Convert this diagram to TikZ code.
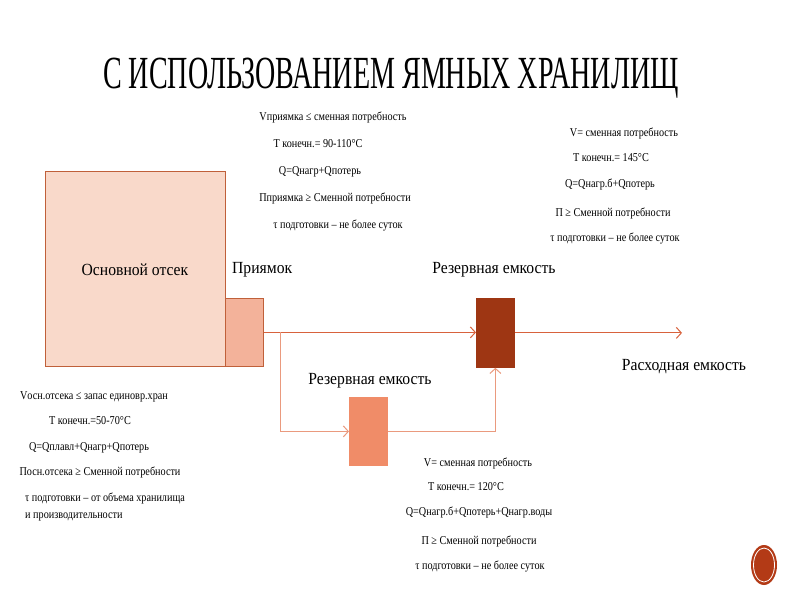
\documentclass[tikz,border=0pt]{standalone}
\usepackage{fontspec}
\setmainfont{Liberation Serif}
\newfontfamily\titlefont{Liberation Serif}[FakeStretch=0.61]
\newfontfamily\smallfont{Liberation Serif}[FakeStretch=0.85]
\newfontfamily\labelfont{Liberation Serif}[FakeStretch=0.92]
\usetikzlibrary{arrows.meta,shapes.geometric}
\definecolor{mainfill}{HTML}{F9D9CA}
\definecolor{boxborder}{HTML}{C0603A}
\definecolor{prfill}{HTML}{F3B29A}
\definecolor{resdark}{HTML}{9E3613}
\definecolor{reslight}{HTML}{F08C68}
\definecolor{mainline}{HTML}{D8623D}
\definecolor{branchline}{HTML}{EA9A7E}
\definecolor{iconred}{HTML}{B33A16}
\tikzset{
  box/.style={draw=boxborder, line width=0.8pt, anchor=north west, inner sep=0pt},
  lbl/.style={font=\labelfont\fontsize{17}{20}\selectfont, inner sep=0pt},
  info/.style={font=\smallfont\fontsize{12}{14}\selectfont, inner sep=0pt, anchor=base},
  mline/.style={draw=mainline, line width=1pt, -{Straight Barb[length=5pt,width=11pt]}},
  bline/.style={draw=branchline, line width=1pt, -{Straight Barb[length=5pt,width=11pt]}},
}
\begin{document}
\begin{tikzpicture}[x=1pt,y=-1pt]
\useasboundingbox (0,0) rectangle (800,600);
\fill[white] (0,0) rectangle (800,600);
% title
\node[font=\titlefont\fontsize{46}{50}\selectfont, anchor=base, inner sep=0pt] (title) at (391,88) {С ИСПОЛЬЗОВАНИЕМ ЯМНЫХ ХРАНИЛИЩ};
% boxes
\node[box, fill=mainfill, minimum width=180pt, minimum height=195pt] (main) at (45,171) {};
\node[box, fill=prfill, minimum width=38pt, minimum height=68pt] (pr) at (225,298) {};
\node[box, draw=resdark, fill=resdark, minimum width=38pt, minimum height=69pt] (res1) at (476,298) {};
\node[box, draw=reslight, fill=reslight, minimum width=38pt, minimum height=68pt] (res2) at (349,397) {};
% labels
\node[lbl] (lmain) at (135,270) {Основной отсек};
\node[lbl, anchor=west] (lpr) at (232,270) {Приямок};
\node[lbl] (lres1) at (494,270) {Резервная емкость};
\node[lbl] (lres2) at (370,381) {Резервная емкость};
\node[lbl] (lout) at (684,367) {Расходная емкость};
% connectors
\coordinate (br) at (280,332);
\coordinate (outx) at (682,333);
\draw[mline] (pr.east) -- (pr.east -| res1.west);
\draw[mline] (res1.east) -- (res1.east -| outx);
\draw[bline] (br) |- (res2.west);
\draw[bline] (res2.east) -| (res1.south);
% info top middle
\node[info] (a1) at (333,120) {Vприямка ≤ сменная потребность};
\node[info] (a2) at (318,147) {T конечн.= 90-110°C};
\node[info] (a3) at (320,174) {Q=Qнагр+Qпотерь};
\node[info] (a4) at (335,201) {Пприямка ≥ Сменной потребности};
\node[info] (a5) at (338,228) {τ подготовки – не более суток};
% info top right
\node[info] (b1) at (624,136) {V= сменная потребность};
\node[info] (b2) at (611,161) {T конечн.= 145°C};
\node[info] (b3) at (610,187) {Q=Qнагр.б+Qпотерь};
\node[info] (b4) at (613,216) {П ≥ Сменной потребности};
\node[info] (b5) at (615,241) {τ подготовки – не более суток};
% info bottom left
\node[info] (c1) at (94,399) {Vосн.отсека ≤ запас единовр.хран};
\node[info] (c2) at (90,424) {T конечн.=50-70°C};
\node[info] (c3) at (89,450) {Q=Qплавл+Qнагр+Qпотерь};
\node[info] (c4) at (100,475) {Посн.отсека ≥ Сменной потребности};
\node[info, anchor=base west] (c5) at (25,501) {τ подготовки – от объема хранилища};
\node[info, anchor=base west] (c6) at (25,518) {и производительности};
% info bottom middle
\node[info] (d1) at (478,466) {V= сменная потребность};
\node[info] (d2) at (466,490) {T конечн.= 120°C};
\node[info] (d3) at (479,515) {Q=Qнагр.б+Qпотерь+Qнагр.воды};
\node[info] (d4) at (479,544) {П ≥ Сменной потребности};
\node[info] (d5) at (480,569) {τ подготовки – не более суток};
% slide icon
\node[ellipse, draw=none, fill=iconred, minimum width=26pt, minimum height=40pt, inner sep=0pt] (icon) at (764,565) {};
\draw[white, line width=0.8pt] (icon.center) ellipse (10.5pt and 17pt);
\end{tikzpicture}
\end{document}
